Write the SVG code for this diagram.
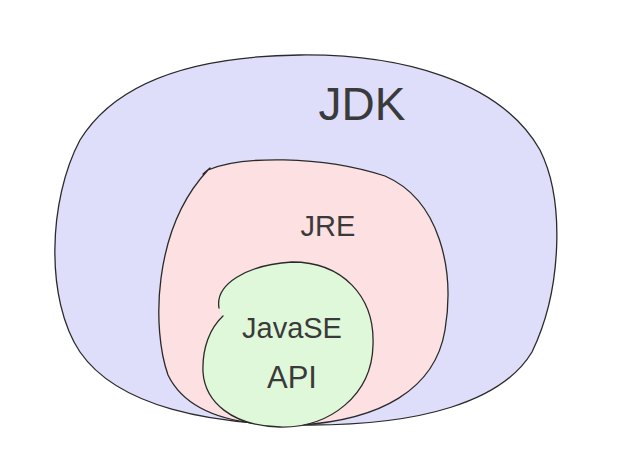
<svg xmlns="http://www.w3.org/2000/svg" width="630" height="463" viewBox="0 0 630 463">
<style>
.ol{stroke:#2a2a2a;stroke-width:1.3;stroke-linejoin:round;stroke-linecap:round}
.lbl{font-family:"Liberation Sans","DejaVu Sans",sans-serif;fill:#3a3a3a;text-anchor:middle}
</style>
<rect width="630" height="463" fill="#ffffff"/>
<g id="jdk">
<path class="ol" fill="#dedefa" d="M300,55 C400,54 500,80 540,150 C565,200 562,290 532,352 C502,402 420,425 310,425 C210,425 118,407 80,352 C45,300 48,200 80,140 C120,75 210,56 300,55 Z"/>
<text class="lbl" x="362" y="120" font-size="46">JDK</text>
</g>
<g id="jre">
<path class="ol" fill="#fde0e1" d="M208,170 C240,156 320,155 385,176 C440,200 455,270 445,330 C435,390 380,420 300,425 C230,427 185,410 168,375 C152,330 152,230 208,170 Z M203,174 L210,168"/>
<text class="lbl" x="328" y="236" font-size="29">JRE</text>
</g>
<g id="javase">
<path class="ol" fill="#e0f8da" d="M219,308 C215,285 245,265 292,262 C342,262 375,296 373,345 C372,395 330,428 280,427 C232,426 205,402 203,372 C202,348 210,328 223,316"/>
<text class="lbl" x="292" y="338" font-size="29">JavaSE</text>
<text class="lbl" x="292" y="388" font-size="31">API</text>
</g>
<g id="connectors"></g>
</svg>
